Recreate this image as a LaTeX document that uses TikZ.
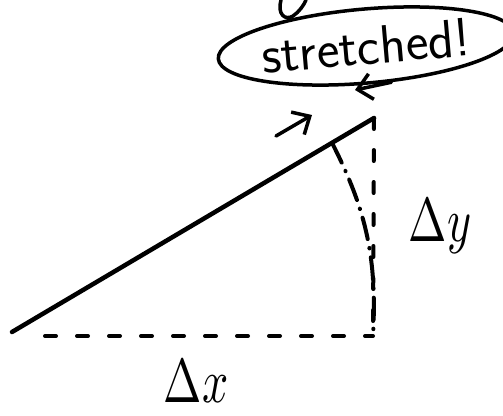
\documentclass[tikz,border=0pt]{standalone}
\usepackage{fontspec}
\usetikzlibrary{arrows.meta, shapes.geometric, calc}

\begin{document}
\begin{tikzpicture}[
  x=1pt, y=-1pt, line cap=round,
  ink/.style={draw=black, line width=4.5pt},
  dashy/.style={ink, line width=4pt, dash pattern=on 11pt off 21pt},
  dashdot/.style={ink, line width=4pt, dash pattern=on 22pt off 9pt on 0.5pt off 9pt},
  arr/.style={ink, line width=3.5pt, -{Straight Barb[length=14pt, width=26pt]}},
  lbl/.style={xscale=4.6, yscale=6.2, inner sep=0pt},
  bubble/.style={ellipse, draw=black, line width=3.5pt, minimum width=263pt, minimum height=74pt, inner sep=0pt, font=\sffamily\fontsize{54}{58}\selectfont}]
\useasboundingbox (0,0) rectangle (503,415);
\coordinate (base) at (12,332);
\coordinate (tip) at (374,118);
\coordinate (corner) at (373,336);
\coordinate (dxstart) at (45,336);
\coordinate (arcend) at ($(base)!0.884!(tip)$);
\coordinate (pushfrom) at (276,136);
\coordinate (pushto) at (312,115);
\coordinate (pointee) at (355,90);
\node[bubble, rotate=5] (note) at (366,46) {stretched!};
\node[lbl] (dx) at (196,381) {$\Delta x$};
\node[lbl] (dy) at (440,226) {$\Delta y$};
\draw[ink] (base) -- (tip);
\draw[dashy] (dxstart) -- (corner);
\draw[dashy] (tip) -- (corner);
\draw[dashdot] (arcend) to[bend left=15] (corner);
\draw[arr] (pushfrom) -- (pushto);
\draw[arr] (note.-60) -- (pointee);
% piece of a letter cut by the top edge
\draw[ink, line width=3.5pt] (281,0) .. controls (277,14) and (285,21) .. (293,16) .. controls (299,12) and (304,5) .. (306,0);
\end{tikzpicture}
\end{document}
